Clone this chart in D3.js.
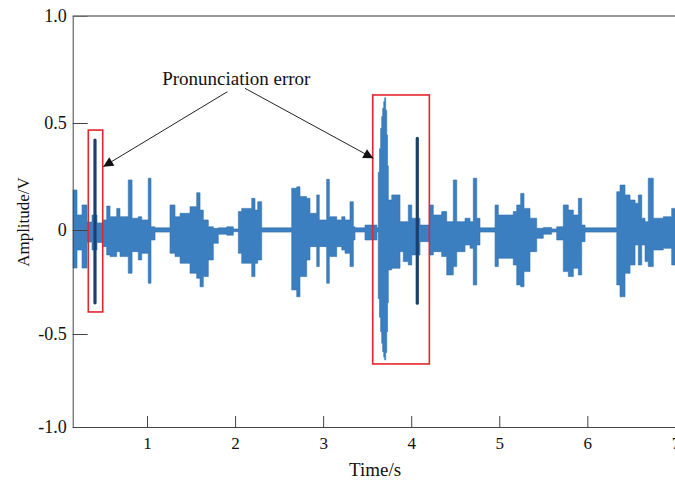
<!DOCTYPE html>
<html>
<head>
<meta charset="utf-8">
<script src="https://cdn.jsdelivr.net/npm/d3@7"></script>
<style>
  body { margin: 0; background: #fff; }
  svg { display: block; font-family: "Liberation Serif", "Times New Roman", serif; }
</style>
</head>
<body>
<svg id="chart" width="675" height="483"></svg>
<script>
// Waveform envelope, one entry per step (value holds until the next time)
const timeS = [
  0.156, 0.205, 0.262, 0.318, 0.375, 0.432, 0.503, 0.542, 0.580, 0.656,
  0.693, 0.787, 0.830, 0.901, 0.940, 1.014, 1.045, 1.091, 1.261, 1.318,
  1.375, 1.488, 1.564, 1.602, 1.639, 1.696, 1.753, 1.809, 1.905, 1.980,
  2.037, 2.075, 2.189, 2.226, 2.257, 2.302, 2.643, 2.700, 2.737, 2.813,
  2.851, 2.927, 2.956, 3.040, 3.070, 3.154, 3.211, 3.248, 3.305, 3.343,
  3.362, 3.475, 3.611, 3.626, 3.640, 3.653, 3.665, 3.676, 3.688, 3.699,
  3.710, 3.722, 3.731, 3.740, 3.779,
  3.873, 3.910, 3.967, 4.006, 4.100, 4.206, 4.251, 4.346, 4.403, 4.478,
  4.517, 4.611, 4.668, 4.705, 4.744, 4.781, 4.952, 4.989, 5.159, 5.198,
  5.243, 5.281, 5.349, 5.425, 5.500, 5.595, 5.652, 5.727, 5.784, 5.841,
  5.898, 5.936, 5.974, 6.334, 6.371, 6.428, 6.485, 6.542, 6.579, 6.618,
  6.655, 6.692, 6.749, 6.863, 6.958, 7.000
];
const upperV = [
  0.187, 0.070, 0.117, 0.037, 0.070, 0.033, 0.047, 0.112, 0.062, 0.101,
  0.062, 0.234, 0.055, 0.062, 0.047, 0.242, 0.015, 0.010, 0.117, 0.062,
  0.078, 0.109, 0.174, 0.093, 0.047, 0.015, 0.008, 0.010, 0.015, 0.005,
  0.086, 0.101, 0.148, 0.093, 0.132, 0.010, 0.195, 0.202, 0.156, 0.148,
  0.078, 0.164, 0.047, 0.237, 0.062, 0.047, 0.062, 0.047, 0.132, 0.015,
  0.010, 0.023, 0.010, 0.270, 0.380, 0.475, 0.530, 0.569, 0.600, 0.618,
  0.560, 0.444, 0.300, 0.140, 0.164,
  0.039, 0.039, 0.117, 0.055, 0.023, 0.117, 0.070, 0.086, 0.039, 0.234,
  0.039, 0.055, 0.039, 0.242, 0.055, 0.010, 0.117, 0.070, 0.086, 0.117,
  0.171, 0.101, 0.055, 0.008, 0.012, 0.005, 0.015, 0.117, 0.093, 0.070,
  0.148, 0.023, 0.010, 0.179, 0.210, 0.164, 0.140, 0.125, 0.164, 0.055,
  0.039, 0.242, 0.055, 0.062, 0.101, 0.101
];
const lowerV = [
  -0.183, -0.096, -0.183, -0.058, -0.096, -0.060, -0.080, -0.120, -0.128, -0.104,
  -0.128, -0.208, -0.104, -0.144, -0.112, -0.256, -0.048, -0.010, -0.112, -0.128,
  -0.160, -0.208, -0.232, -0.273, -0.224, -0.144, -0.064, -0.020, -0.025, -0.008,
  -0.112, -0.160, -0.224, -0.160, -0.144, -0.010, -0.288, -0.321, -0.224, -0.144,
  -0.080, -0.176, -0.080, -0.256, -0.128, -0.080, -0.096, -0.112, -0.176, -0.048,
  -0.010, -0.048, -0.010, -0.330, -0.420, -0.489, -0.550, -0.595, -0.625, -0.640,
  -0.600, -0.489, -0.350, -0.192, -0.184,
  -0.104, -0.152, -0.168, -0.120, -0.056, -0.120, -0.104, -0.128, -0.216, -0.176,
  -0.104, -0.072, -0.088, -0.264, -0.072, -0.010, -0.176, -0.136, -0.168, -0.264,
  -0.273, -0.200, -0.104, -0.040, -0.020, -0.010, -0.048, -0.200, -0.224, -0.184,
  -0.216, -0.056, -0.010, -0.264, -0.321, -0.208, -0.168, -0.072, -0.168, -0.072,
  -0.152, -0.176, -0.096, -0.088, -0.168, -0.168
];

// narrow dark spikes inside the marked regions
const spikeTime = [0.409, 4.069];
const spikeTop = [0.420, 0.428];
const spikeBottom = [-0.350, -0.352];

// marked "pronunciation error" regions
const boxStart = [0.333, 3.563];
const boxEnd = [0.497, 4.206];
const boxTop = [0.467, 0.631];
const boxBottom = [-0.394, -0.661];

// annotation arrows: from label towards the regions
const arrowFromT = [1.912, 2.113];
const arrowFromV = [0.646, 0.662];
const arrowToT = [0.503, 3.570];
const arrowToV = [0.296, 0.335];
const labelT = 2.014;
const labelV = 0.678;

const xTicks = [1, 2, 3, 4, 5, 6, 7];
const yTicks = [-1, -0.5, 0, 0.5, 1];
const yTickLabels = ["-1.0", "-0.5", "0", "0.5", "1.0"];

const svg = d3.select("#chart");
const M = { left: 72.7, right: 675.4, top: 16, bottom: 427 };

const x = d3.scaleLinear().domain([0.156, 7]).range([M.left, M.right]);
// the printed axis is slightly uneven, so map each labelled tick to where it sits
const y = d3.scaleLinear().domain(yTicks).range([427, 334, 230, 123, 16]);

const wave = timeS.map((t, i) => ({ t, hi: upperV[i], lo: lowerV[i] }));

const defs = svg.append("defs");
defs.append("clipPath").attr("id", "plot")
  .append("rect").attr("x", M.left).attr("y", M.top)
  .attr("width", M.right - M.left).attr("height", M.bottom - M.top);

defs.append("marker")
  .attr("id", "head")
  .attr("viewBox", "0 0 10 10")
  .attr("refX", 10).attr("refY", 5)
  .attr("markerWidth", 13).attr("markerHeight", 10)
  .attr("markerUnits", "userSpaceOnUse")
  .attr("orient", "auto")
  .append("path").attr("d", "M0,0L10,5L0,10Z").attr("fill", "#111");

const area = d3.area()
  .x(d => x(d.t))
  .y0(d => y(d.lo))
  .y1(d => y(d.hi))
  .curve(d3.curveStepAfter);

const plot = svg.append("g").attr("clip-path", "url(#plot)");

plot.append("path")
  .datum(wave)
  .attr("d", area)
  .attr("fill", "#3b7fc0")
  .attr("stroke", "#3070ad")
  .attr("stroke-width", 0.6)
  .attr("stroke-linejoin", "round");

plot.selectAll("line.spike")
  .data(spikeTime)
  .join("line")
  .attr("class", "spike")
  .attr("x1", d => x(d)).attr("x2", d => x(d))
  .attr("y1", (d, i) => y(spikeTop[i]))
  .attr("y2", (d, i) => y(spikeBottom[i]))
  .attr("stroke", "#1c3f6c")
  .attr("stroke-width", 3.2)
  .attr("stroke-linecap", "round");

// axes
const xAxis = svg.append("g")
  .attr("transform", `translate(0,${M.bottom})`)
  .call(d3.axisBottom(x).tickValues(xTicks).tickFormat(d3.format("d")).tickSize(-11).tickSizeOuter(0).tickPadding(10));
const yAxis = svg.append("g")
  .attr("transform", `translate(${M.left},0)`)
  .call(d3.axisLeft(y).tickValues(yTicks).tickFormat((d, i) => yTickLabels[i]).tickSize(-15).tickSizeOuter(0).tickPadding(6));

[xAxis, yAxis].forEach(a => a.attr("font-family", null));
xAxis.selectAll("text").attr("font-size", 17).attr("fill", "#111");
yAxis.selectAll("text").attr("font-size", 18).attr("fill", "#111");
svg.selectAll(".domain, .tick line").attr("stroke", "#444");

svg.append("line")
  .attr("x1", M.left).attr("x2", M.right)
  .attr("y1", M.top).attr("y2", M.top)
  .attr("stroke", "#777").attr("stroke-width", 1.5);

svg.append("text")
  .attr("x", (M.left + M.right) / 2 + 1)
  .attr("y", 476)
  .attr("text-anchor", "middle")
  .attr("font-size", 19)
  .attr("fill", "#111")
  .text("Time/s");

svg.append("text")
  .attr("transform", "translate(29,222) rotate(-90)")
  .attr("text-anchor", "middle")
  .attr("font-size", 17)
  .attr("fill", "#111")
  .text("Amplitude/V");

// marked regions
svg.selectAll("rect.err")
  .data(boxStart)
  .join("rect")
  .attr("class", "err")
  .attr("x", d => x(d))
  .attr("y", (d, i) => y(boxTop[i]))
  .attr("width", (d, i) => x(boxEnd[i]) - x(d))
  .attr("height", (d, i) => y(boxBottom[i]) - y(boxTop[i]))
  .attr("fill", "none")
  .attr("stroke", "#e3262b")
  .attr("stroke-width", 1.6);

svg.selectAll("line.arrow")
  .data(arrowFromT)
  .join("line")
  .attr("class", "arrow")
  .attr("x1", d => x(d))
  .attr("y1", (d, i) => y(arrowFromV[i]))
  .attr("x2", (d, i) => x(arrowToT[i]))
  .attr("y2", (d, i) => y(arrowToV[i]))
  .attr("stroke", "#222")
  .attr("stroke-width", 1)
  .attr("marker-end", "url(#head)");

svg.append("text")
  .attr("x", x(labelT))
  .attr("y", y(labelV))
  .attr("text-anchor", "middle")
  .attr("font-size", 19)
  .attr("fill", "#111")
  .text("Pronunciation error");
</script>
</body>
</html>
